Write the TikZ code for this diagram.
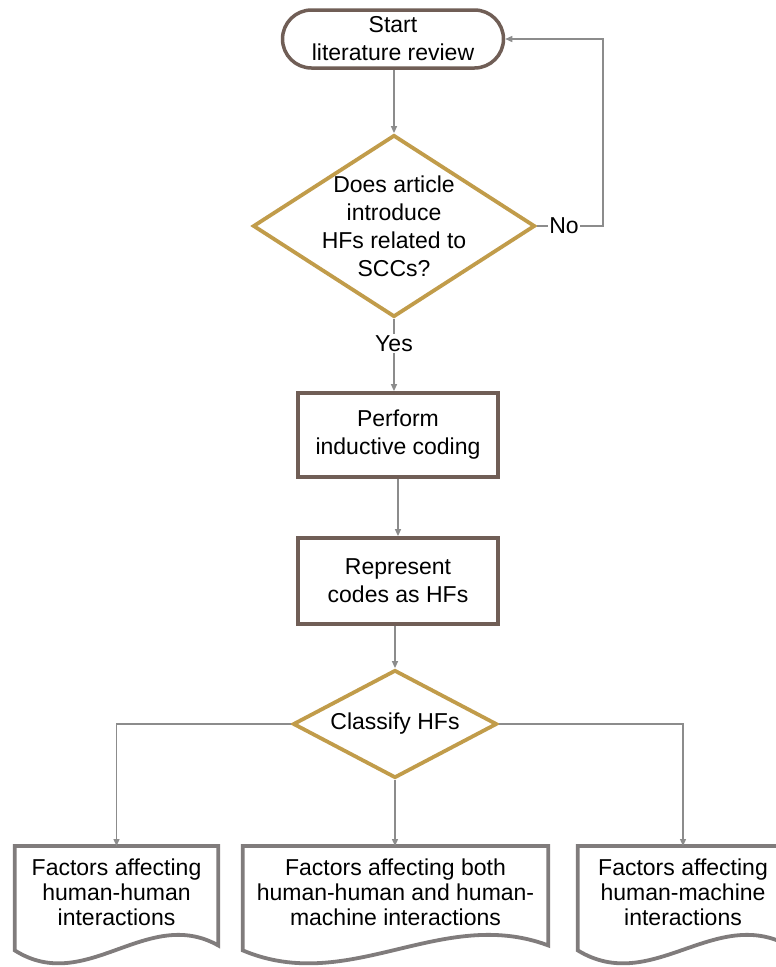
\documentclass[tikz,border=0pt]{standalone}
\usepackage{fontspec}
\setmainfont{Liberation Sans}
\usetikzlibrary{shapes.geometric,arrows.meta,calc}
\definecolor{brownline}{RGB}{112,94,86}
\definecolor{goldline}{RGB}{193,156,74}
\definecolor{docgray}{RGB}{128,124,124}
\definecolor{connc}{RGB}{140,140,140}
\tikzset{
  txt/.style={font=\fontsize{23}{28}\selectfont, align=center, inner sep=0pt},
  doctxt/.style={font=\fontsize{23}{25}\selectfont, align=center, inner sep=0pt},
  startbox/.style={txt, draw=brownline, line width=3.5pt, rounded corners=29pt, fill=white},
  procbox/.style={txt, draw=brownline, line width=3.8pt, fill=white},
  diam/.style={diamond, draw=goldline, line width=3.8pt, fill=white, inner sep=0pt},
  docline/.style={draw=docgray, line width=3.8pt, line join=miter},
  conn/.style={draw=connc, line width=1.3pt, -{Triangle[length=7pt,width=6pt]}},
  lbl/.style={txt, fill=white, inner sep=1.5pt}
}
\newcommand\DocOutline[1]{%
  \path[docline] ($(#1.south west)+(0,11)$) -- (#1.north west) -- (#1.north east)
    -- ($(#1.south east)+(0,6)$)
    .. controls ($(#1.south west)!0.65!(#1.south east)+(0,-34)$)
    and ($(#1.south west)!0.35!(#1.south east)+(0,56)$)
    .. ($(#1.south west)+(0,11)$) -- cycle;}
\begin{document}
\begin{tikzpicture}[x=1pt,y=-1pt]
\useasboundingbox (0,0) rectangle (776,967);
\clip (0,0) rectangle (776,967);
\fill[white] (0,0) rectangle (776,967);

% nodes
\node[startbox, minimum width=221pt, minimum height=58pt] (start) at (393,39) {Start\\literature review};
\node[diam, minimum width=282pt, minimum height=182pt] (d1) at (394,226) {};
\node[txt] (d1t) at (d1.center) {Does article\\introduce\\HFs related to\\SCCs?};
\node[procbox, minimum width=200pt, minimum height=84pt] (b1) at (398,435) {Perform\\inductive coding};
\node[procbox, minimum width=200pt, minimum height=86pt] (b2) at (398,581) {Represent\\codes as HFs};
\node[diam, minimum width=204pt, minimum height=108pt] (d2) at (395,724) {};
\node[txt] (d2t) at (d2.center) {Classify HFs};

% documents
\node[doctxt, minimum width=203pt, minimum height=93pt, anchor=north] (doc1) at (116.5,846) {Factors affecting\\human-human\\interactions};
\node[doctxt, minimum width=305pt, minimum height=93pt, anchor=north] (doc2) at (395.5,846) {Factors affecting both\\human-human and human-\\machine interactions};
\node[doctxt, minimum width=210pt, minimum height=93pt, anchor=north] (doc3) at (683,846) {Factors affecting\\human-machine\\interactions};
\DocOutline{doc1}
\DocOutline{doc2}
\DocOutline{doc3}

% connectors
\draw[conn] (start.south -| d1.north) -- (d1.north);
\draw[conn] (d1.south) -- node[lbl, pos=0.34] (yes) {Yes} (d1.south |- b1.north);
\coordinate (nocorner) at (603,226);
\draw[conn] (d1.east) -- node[lbl, pos=0.41] (no) {No} (nocorner) |- (start.east);
\draw[conn] (b1.south) -- (b2.north);
\draw[conn] (b2.south -| d2.north) -- (d2.north);
\draw[conn] (d2.west) -| (doc1.north);
\draw[conn] (d2.east) -| (doc3.north);
\draw[conn] (d2.south) -- (d2.south |- doc2.north);
\end{tikzpicture}
\end{document}
